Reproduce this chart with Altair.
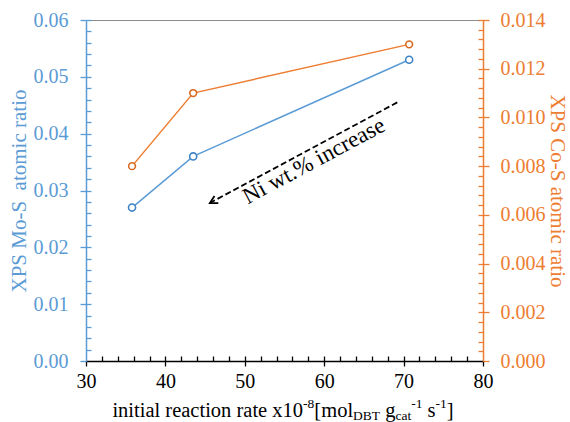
import math
import altair as alt
import pandas as pd

# ---------------- data ----------------
rate = [35.8, 43.5, 70.7]
mo_s = [0.027, 0.036, 0.053]
co_s = [0.008, 0.011, 0.013]

x_ticks = [30, 40, 50, 60, 70, 80]
mo_ticks = [0.00, 0.01, 0.02, 0.03, 0.04, 0.05, 0.06]
co_ticks = [0.000, 0.002, 0.004, 0.006, 0.008, 0.010, 0.012, 0.014]

arrow_x = [69.2, 45.6]
arrow_y = [0.0455, 0.0278]
note_x = [58.7]
note_y = [0.0352]
note_text = ["Ni wt.% increase"]

y_left_title = "XPS Mo-S\u00a0 atomic ratio"
y_right_title = "XPS Co-S atomic ratio"
x_title_parts = ["initial reaction rate x10", "-8", "[mol", "DBT", " g", "cat", "-1", " s", "-1", "]"]
x_title_kinds = ["n", "sup", "n", "sub", "n", "sub", "sup", "n", "sup", "n"]

# ---------------- style ----------------
BLUE = "#5B9BD5"
BLUE_D = "#3F83C6"
ORANGE = "#ED7D31"
ORANGE_D = "#D9691F"
FONT = "Liberation Serif"
W, H = 397, 341
PAD_L, PAD_T = 86, 20

x_min = [v for v in range(32, 80, 2)]
mo_min = [round(0.002 * i, 3) for i in range(1, 31)]
co_min = [round(0.0004 * i, 4) for i in range(1, 36)]

df_mo = pd.DataFrame({"rate": rate, "v": mo_s})
df_co = pd.DataFrame({"rate": rate, "v": co_s})

xs = alt.Scale(domain=[30, 80], nice=False, zero=False)
ys_mo = alt.Scale(domain=[0, 0.06], nice=False, zero=False)
ys_co = alt.Scale(domain=[0, 0.014], nice=False, zero=False)

common_axis = dict(grid=False, labelFont=FONT, titleFont=FONT, labelFlush=False,
                   labelOverlap=False, labelBound=False, titleFontWeight="normal")

x_main = alt.Axis(orient="bottom", values=x_ticks, format="d", labelFontSize=20,
                  labelColor="black", domainColor="black", tickColor="black",
                  tickSize=5, tickWidth=1.3, domainWidth=1.3, labelPadding=5,
                  title=None, **common_axis)
x_in = alt.Axis(orient="bottom", values=x_min, offset=-5, tickSize=5, tickWidth=1.3,
                tickColor="black", labels=False, domain=False, title=None, **common_axis)

y_left = alt.Axis(orient="left", values=mo_ticks, format=".2f", labelFontSize=20,
                  labelColor=BLUE, domainColor=BLUE, tickColor=BLUE, tickSize=6,
                  tickWidth=1.3, domainWidth=1.5, labelPadding=12, title=y_left_title,
                  titleColor=BLUE, titleFontSize=21, titlePadding=4, **common_axis)
y_left_in = alt.Axis(orient="left", values=mo_min, offset=-5, tickSize=5, tickWidth=1.3,
                     tickColor=BLUE, labels=False, domain=False, title=None, **common_axis)

y_right = alt.Axis(orient="right", values=co_ticks, format=".3f", labelFontSize=20,
                   labelColor=ORANGE, domainColor=ORANGE, tickColor=ORANGE, tickSize=6,
                   tickWidth=1.3, domainWidth=1.5, labelPadding=11, title=y_right_title,
                   titleColor=ORANGE, titleFontSize=21, titlePadding=1, **common_axis)
y_right_in = alt.Axis(orient="right", values=co_min, offset=-5, tickSize=5, tickWidth=1.3,
                      tickColor=ORANGE, labels=False, domain=False, title=None, **common_axis)

blue = alt.Chart(df_mo).mark_line(
    color=BLUE, strokeWidth=1.5,
    point=alt.OverlayMarkDef(filled=True, fill="white", stroke=BLUE_D, strokeWidth=1.6, size=50),
).encode(x=alt.X("rate:Q", scale=xs, axis=x_main),
         y=alt.Y("v:Q", scale=ys_mo, axis=y_left))

blue_in = alt.Chart(df_mo).mark_point(opacity=0).encode(
    x=alt.X("rate:Q", scale=xs, axis=x_in),
    y=alt.Y("v:Q", scale=ys_mo, axis=y_left_in))

orange = alt.Chart(df_co).mark_line(
    color=ORANGE, strokeWidth=1.5,
    point=alt.OverlayMarkDef(filled=True, fill="white", stroke=ORANGE_D, strokeWidth=1.6, size=46),
).encode(x=alt.X("rate:Q", scale=xs, axis=None),
         y=alt.Y("v:Q", scale=ys_co, axis=y_right))

orange_in = alt.Chart(df_co).mark_point(opacity=0).encode(
    x=alt.X("rate:Q", scale=xs, axis=None),
    y=alt.Y("v:Q", scale=ys_co, axis=y_right_in))

# arrow annotation
dx = (arrow_x[1] - arrow_x[0]) / 50 * W
dy = -(arrow_y[1] - arrow_y[0]) / 0.06 * H
ang = math.degrees(math.atan2(-dy, -dx)) % 360

arrow_df = pd.DataFrame({"x": arrow_x, "y": arrow_y, "o": [0, 1]})
arrow = alt.Chart(arrow_df).mark_line(color="black", strokeDash=[6, 3], strokeWidth=1.8).encode(
    x=alt.X("x:Q", scale=xs, axis=None),
    y=alt.Y("y:Q", scale=ys_mo, axis=None),
    order="o:O")
head = alt.Chart(pd.DataFrame({"x": [arrow_x[-1]], "y": [arrow_y[-1]]})).mark_point(
    shape="M 1 -0.55 L 0 0 L 1 0.55", size=220, filled=False, color="black",
    strokeWidth=1.8, angle=round(ang, 1), opacity=1).encode(
    x=alt.X("x:Q", scale=xs, axis=None),
    y=alt.Y("y:Q", scale=ys_mo, axis=None))
note = alt.Chart(pd.DataFrame({"x": note_x, "y": note_y, "t": note_text})).mark_text(
    font=FONT, fontSize=23, color="black", angle=round(ang, 1), align="center",
    baseline="middle").encode(
    x=alt.X("x:Q", scale=xs, axis=None),
    y=alt.Y("y:Q", scale=ys_mo, axis=None),
    text="t:N")

# x axis title with sub/superscripts (spaces handled as explicit advances)
TW = {' ': 250, 'i': 278, 'n': 500, 't': 278, 'a': 444, 'l': 278, 'r': 333,
      'e': 444, 'c': 444, 'o': 500, 'x': 500, '1': 500, '0': 500, '-': 333, '8': 500,
      '[': 333, 'm': 778, 'D': 722, 'B': 667, 'T': 611, 'g': 500, 's': 389, ']': 333}
MAIN_FS, SMALL_FS = 20.5, 13.5


def tw(s, fs):
    return sum(TW.get(c, 500) for c in s) / 1000 * fs


sizes = [MAIN_FS if k == "n" else SMALL_FS for k in x_title_kinds]
total = sum(tw(s, f) for s, f in zip(x_title_parts, sizes))
cx = 283 - PAD_L
base_y = 416.7 - PAD_T
xpos = cx - total / 2
title_layers = []
for s, k, f in zip(x_title_parts, x_title_kinds, sizes):
    lead = len(s) - len(s.lstrip(" "))
    xpos += tw(" " * lead, f)
    body = s.strip(" ")
    yy = base_y + (-8.5 if k == "sup" else (3 if k == "sub" else 0))
    title_layers.append(
        alt.Chart(pd.DataFrame({"t": [body]})).mark_text(
            font=FONT, fontSize=f, color="black", align="left", baseline="alphabetic"
        ).encode(x=alt.value(round(xpos, 2)), y=alt.value(round(yy, 2)), text="t:N"))
    xpos += tw(body, f)

chart = alt.layer(blue, blue_in, orange, orange_in, arrow, head, note, *title_layers).resolve_scale(
    x="independent", y="independent"
).properties(
    width=W, height=H,
    padding={"left": PAD_L, "top": PAD_T, "right": 570 - PAD_L - W, "bottom": 422 - PAD_T - H},
    autosize=alt.AutoSizeParams(type="none"),
).configure(font=FONT).configure_axis(
    labelFont=FONT, titleFont=FONT, titleFontWeight="normal"
).configure_text(font=FONT).configure_view(stroke="#8c8c8c", strokeWidth=1)

chart.save("out.html", embed_options={"renderer": "svg", "actions": False})
